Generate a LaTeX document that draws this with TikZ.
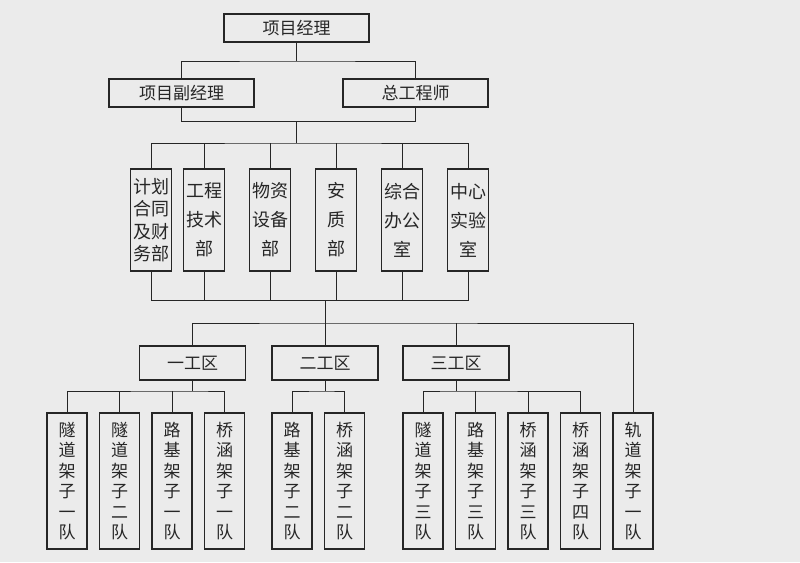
\documentclass[tikz,border=0pt]{standalone}
\usepackage{fontspec}
\usepackage{xcolor,tikz}
\usetikzlibrary{positioning}
\newfontfamily\cjk{Noto Sans CJK SC}

\begin{document}
\begin{tikzpicture}[x=1pt,y=1pt]
  \definecolor{paper}{HTML}{EBEBEB}
  \definecolor{ink}{HTML}{262626}
  \newcommand{\deptgap}[0]{25pt}
  \newcommand{\teamgap}[0]{12.5pt}
  \tikzstyle{block}     = [rectangle, draw = ink, line width=1.6pt, inner sep=0pt, outer sep=0pt, text = ink, font = \cjk\fontsize{17}{20}\selectfont, minimum width=145pt, minimum height=28pt]
  \tikzstyle{dept}      = [block, align=center, font = \cjk\fontsize{18}{29}\selectfont, minimum width=41pt, minimum height=102pt]
  \tikzstyle{sector}    = [block, minimum width=106pt, minimum height=34pt]
  \tikzstyle{team}      = [block, align=center, font = \cjk\fontsize{17}{20.5}\selectfont, minimum width=40pt, minimum height=136pt]
  \tikzstyle{connector} = [line width=0.9pt, draw = ink]

  % page
  \fill [paper] (0,0) rectangle (800,-562);

  % management
  \node [block]                                     (pm)  at (296.5,-28) {项目经理};
  \node [block, below = 37pt of pm, xshift=-115pt]  (dpm) {项目副经理};
  \node [block, right = 89pt of dpm]                (ce)  {总工程师};

  % departments
  \node [dept, below = 62pt of dpm, xshift=-30.5pt, font = \cjk\fontsize{18}{22.5}\selectfont] (plan) {计划\\合同\\及财\\务部};
  \node [dept, right = 12pt of plan]     (tech)   {工程\\技术\\部};
  \node [dept, right = \deptgap of tech] (supply) {物资\\设备\\部};
  \node [dept, right = \deptgap of supply] (safety) {安\\质\\部};
  \node [dept, right = \deptgap of safety] (office) {综合\\办公\\室};
  \node [dept, right = \deptgap of office] (lab)    {中心\\实验\\室};

  % work sectors
  \node [sector, below = 75pt of tech, xshift=-11.5pt] (secA) {一工区};
  \node [sector, right = 26.5pt of secA]              (secB) {二工区};
  \node [sector, right = \deptgap of secB]            (secC) {三工区};

  % teams
  \node [team, below = 33pt of secA, xshift=-125.5pt] (tunA)  {隧\\道\\架\\子\\一\\队};
  \node [team, right = \teamgap of tunA]   (tunB)  {隧\\道\\架\\子\\二\\队};
  \node [team, right = \teamgap of tunB]   (roadA) {路\\基\\架\\子\\一\\队};
  \node [team, right = \teamgap of roadA]  (brA)   {桥\\涵\\架\\子\\一\\队};
  \node [team, right = 27.5pt of brA]      (roadB) {路\\基\\架\\子\\二\\队};
  \node [team, right = \teamgap of roadB]  (brB)   {桥\\涵\\架\\子\\二\\队};
  \node [team, right = 38.5pt of brB]      (tunC)  {隧\\道\\架\\子\\三\\队};
  \node [team, right = \teamgap of tunC]   (roadC) {路\\基\\架\\子\\三\\队};
  \node [team, right = \teamgap of roadC]  (brC)   {桥\\涵\\架\\子\\三\\队};
  \node [team, right = \teamgap of brC]    (brD)   {桥\\涵\\架\\子\\四\\队};
  \node [team, right = \teamgap of brD]    (track) {轨\\道\\架\\子\\一\\队};

  % management lines
  \draw [connector] (pm.south) -- ++(0,-19) coordinate (pmbus);
  \draw [connector] (dpm.north) |- (pmbus) -| (ce.north);
  \draw [connector] (dpm.south) -- ++(0,-14) coordinate (dpmbus) -| (ce.south);
  \draw [connector] (pm.south |- dpmbus) -- ++(0,-22) coordinate (topbus);

  % department lines
  \draw [connector] (plan.north) |- (topbus) -| (lab.north);
  \draw [connector] (tech.north)   -- (tech.north |- topbus);
  \draw [connector] (supply.north) -- (supply.north |- topbus);
  \draw [connector] (safety.north) -- (safety.north |- topbus);
  \draw [connector] (office.north) -- (office.north |- topbus);
  \draw [connector] (plan.south) -- ++(0,-29) coordinate (botbus) -| (lab.south);
  \draw [connector] (tech.south)   -- (tech.south |- botbus);
  \draw [connector] (supply.south) -- (supply.south |- botbus);
  \draw [connector] (safety.south) -- (safety.south |- botbus);
  \draw [connector] (office.south) -- (office.south |- botbus);

  % sector lines
  \draw [connector] (secB.north |- botbus) -- (secB.north);
  \path (secB.north) ++(0,23) coordinate (secbus);
  \draw [connector] (secA.north) |- (secbus) -| (track.north);
  \draw [connector] (secC.north) -- (secC.north |- secbus);

  % team lines
  \draw [connector] (secA.south) -- ++(0,-11) coordinate (busA);
  \draw [connector] (tunA.north) |- (busA) -| (brA.north);
  \draw [connector] (tunB.north)  -- (tunB.north |- busA);
  \draw [connector] (roadA.north) -- (roadA.north |- busA);
  \draw [connector] (secB.south) -- ++(0,-11) coordinate (busB);
  \draw [connector] (roadB.north) |- (busB) -| (brB.north);
  \draw [connector] (secC.south) -- ++(0,-11) coordinate (busC);
  \draw [connector] (tunC.north) |- (busC) -| (brD.north);
  \draw [connector] (roadC.north) -- (roadC.north |- busC);
  \draw [connector] (brC.north)   -- (brC.north |- busC);
\end{tikzpicture}
\end{document}
